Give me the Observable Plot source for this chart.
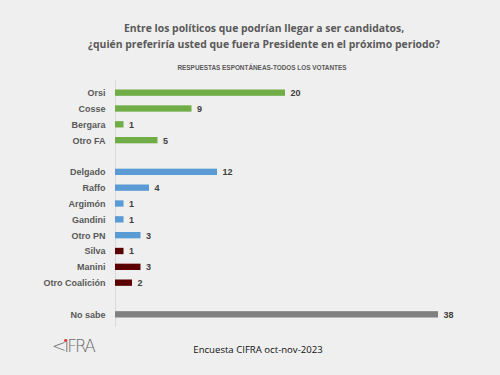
<!DOCTYPE html>
<html>
<head>
<meta charset="utf-8">
<script src="https://cdn.jsdelivr.net/npm/d3@7"></script>
<script src="https://cdn.jsdelivr.net/npm/@observablehq/plot@0.6"></script>
<style>
  html, body { margin: 0; padding: 0; background: #efefef; }
  #wrap { position: relative; width: 500px; height: 375px; overflow: hidden; font-family: "Liberation Sans", "DejaVu Sans", sans-serif; }
  #title { position: absolute; left: 14px; width: 500px; top: 20px; text-align: center; font-weight: bold; font-size: 10.4px; line-height: 16px; color: #595959; font-family: "Open Sans", "Liberation Sans", sans-serif; }
  #sub { position: absolute; left: 12px; width: 500px; top: 64px; text-align: center; font-weight: bold; font-size: 6.4px; color: #595959; }
  #chart { position: absolute; left: 0; top: 72px; }
  #foot { position: absolute; left: 8px; width: 500px; top: 343px; text-align: center; font-size: 9.6px; color: #111; font-family: "Open Sans", "Liberation Sans", sans-serif; }
  #logo { position: absolute; left: 52px; top: 336px; font-size: 17px; color: #6b6b6b; font-family: "DejaVu Sans", sans-serif; font-weight: 300; letter-spacing: -2px; }
  #logo .dot { position: absolute; left: 12px; top: 3px; width: 3px; height: 3px; border-radius: 50%; background: #e33; }
</style>
</head>
<body>
<div id="wrap">
  <div id="title">Entre los políticos que podrían llegar a ser candidatos,<br>¿quién preferiría usted que fuera Presidente en el próximo periodo?</div>
  <div id="sub">RESPUESTAS ESPONTÁNEAS-TODOS LOS VOTANTES</div>
  <div id="chart"></div>
  <div id="logo">&lt;IFRA<span class="dot"></span></div>
  <div id="foot">Encuesta CIFRA oct-nov-2023</div>
</div>
<script>
const names = ["Orsi", "Cosse", "Bergara", "Otro FA", "Delgado", "Raffo", "Argimón", "Gandini", "Otro PN", "Silva", "Manini", "Otro Coalición", "No sabe"];
const values = [20, 9, 1, 5, 12, 4, 1, 1, 3, 1, 3, 2, 38];
const groups = ["FA", "FA", "FA", "FA", "PN", "PN", "PN", "PN", "PN", "CR", "CR", "CR", "NS"];
const rowOrder = ["Orsi", "Cosse", "Bergara", "Otro FA", " ", "Delgado", "Raffo", "Argimón", "Gandini", "Otro PN", "Silva", "Manini", "Otro Coalición", "  ", "No sabe"];
const groupNames = ["FA", "PN", "CR", "NS"];
const groupColors = ["#70ad47", "#5b9bd5", "#5a0000", "#808080"];

const data = names.map((n, i) => ({name: n, value: values[i], group: groups[i]}));

const chart = Plot.plot({
  width: 500,
  height: 261,
  marginTop: 8,
  marginBottom: 6,
  marginLeft: 115,
  marginRight: 62,
  style: {background: "transparent", fontFamily: "Liberation Sans, sans-serif"},
  x: {domain: [0, 38], axis: null},
  y: {domain: rowOrder, padding: 0.6, round: false, label: null},
  color: {domain: groupNames, range: groupColors},
  marks: [
    Plot.ruleX([0], {stroke: "#d9d9d9", strokeWidth: 1}),
    Plot.barX(data, {x: "value", y: "name", fill: "group"}),
    Plot.text(data, {x: "value", y: "name", text: d => String(d.value), textAnchor: "start", dx: 5, fontSize: 9, fontWeight: "bold", fill: "#404040"}),
    Plot.axisY({tickSize: 0, tickPadding: 10, fontSize: 9, fontWeight: "bold", color: "#595959", label: null})
  ]
});
document.getElementById("chart").appendChild(chart);
</script>
</body>
</html>
